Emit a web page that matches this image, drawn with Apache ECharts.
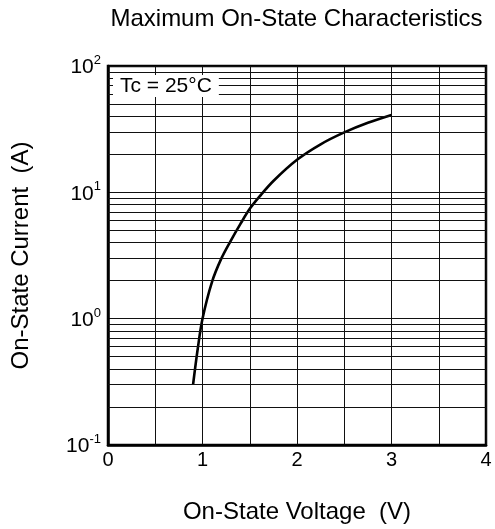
<!DOCTYPE html>
<html>
<head>
<meta charset="utf-8">
<script src="https://cdn.jsdelivr.net/npm/echarts@6/dist/echarts.min.js"></script>
<style>html,body{margin:0;padding:0;background:#fff}#c{width:495px;height:529px}</style>
</head>
<body>
<div id="c"></div>
<script>
const voltage = [0.9, 0.95, 1.0, 1.1, 1.2, 1.3, 1.4, 1.5, 1.6, 1.75, 2.0, 2.25, 2.5, 2.75, 3.0];
const current = [0.3, 0.58, 1.0, 1.95, 3.0, 4.15, 5.6, 7.4, 9.2, 12.3, 18.1, 24, 29.8, 35.5, 41];
const minorLines = [0.2,0.3,0.4,0.5,0.6,0.7,0.8,0.9,2,3,4,5,6,7,8,9,20,30,40,50,60,70,80,90];
const titleText = 'Maximum On-State Characteristics';
const xName = 'On-State Voltage  (V)';
const yName = 'On-State Current  (A)';
const noteText = 'Tc = 25°C';

const font = '"Liberation Sans", Arial, sans-serif';
const chart = echarts.init(document.getElementById('c'), null, {renderer: 'canvas'});
chart.setOption({
  animation: false,
  backgroundColor: '#fff',
  title: {
    text: titleText, left: 296.5, top: 7, textAlign: 'center', padding: 0,
    textStyle: {fontFamily: font, fontSize: 24, fontWeight: 'normal', color: '#000'}
  },
  grid: {left: 108, right: 9, top: 66, bottom: 84, show: true, borderColor: '#000', borderWidth: 2.5,
         backgroundColor: 'transparent', containLabel: false, outerBoundsMode: 'none'},
  xAxis: {
    type: 'value', min: 0, max: 4, interval: 1,
    name: xName, nameLocation: 'middle', nameGap: 55,
    nameTextStyle: {fontFamily: font, fontSize: 24, color: '#000'},
    axisLine: {show: true, lineStyle: {color: '#000', width: 2.5}},
    axisTick: {show: false},
    axisLabel: {fontFamily: font, fontSize: 20, color: '#000', margin: 5},
    splitLine: {show: true, lineStyle: {color: '#111', width: 1}},
    minorTick: {show: false, splitNumber: 2},
    minorSplitLine: {show: true, lineStyle: {color: '#111', width: 1}}
  },
  yAxis: {
    type: 'log', logBase: 10, min: 0.1, max: 100,
    name: yName, nameLocation: 'middle', nameGap: 75,
    nameTextStyle: {fontFamily: font, fontSize: 24, color: '#000'},
    axisLine: {show: true, lineStyle: {color: '#000', width: 2.5}},
    axisTick: {show: false},
    axisLabel: {
      margin: 7,
      formatter: function (v) { return '{b|10}{s|' + Math.round(Math.log10(v)) + '}'; },
      rich: {
        b: {fontFamily: font, fontSize: 21, color: '#000', padding: [3, 0, 0, 0]},
        s: {fontFamily: font, fontSize: 13, color: '#000', padding: [0, 0, 11, 0]}
      }
    },
    splitLine: {show: true, lineStyle: {color: '#111', width: 1}}
  },
  graphic: [{
    type: 'text', left: 113, top: 75, z: 100,
    style: {text: noteText, fontFamily: font, fontSize: 21, fill: '#000', backgroundColor: '#fff', padding: [1, 7, 0, 7]}
  }],
  series: [{
    type: 'line',
    data: voltage.map((v, i) => [v, current[i]]),
    smooth: 0.35, showSymbol: false,
    lineStyle: {color: '#000', width: 2.6},
    markLine: {
      silent: true, symbol: 'none', animation: false,
      label: {show: false},
      lineStyle: {color: '#111', width: 1, type: 'solid'},
      data: minorLines.map(v => ({yAxis: v}))
    }
  }]
});
</script>
</body>
</html>
